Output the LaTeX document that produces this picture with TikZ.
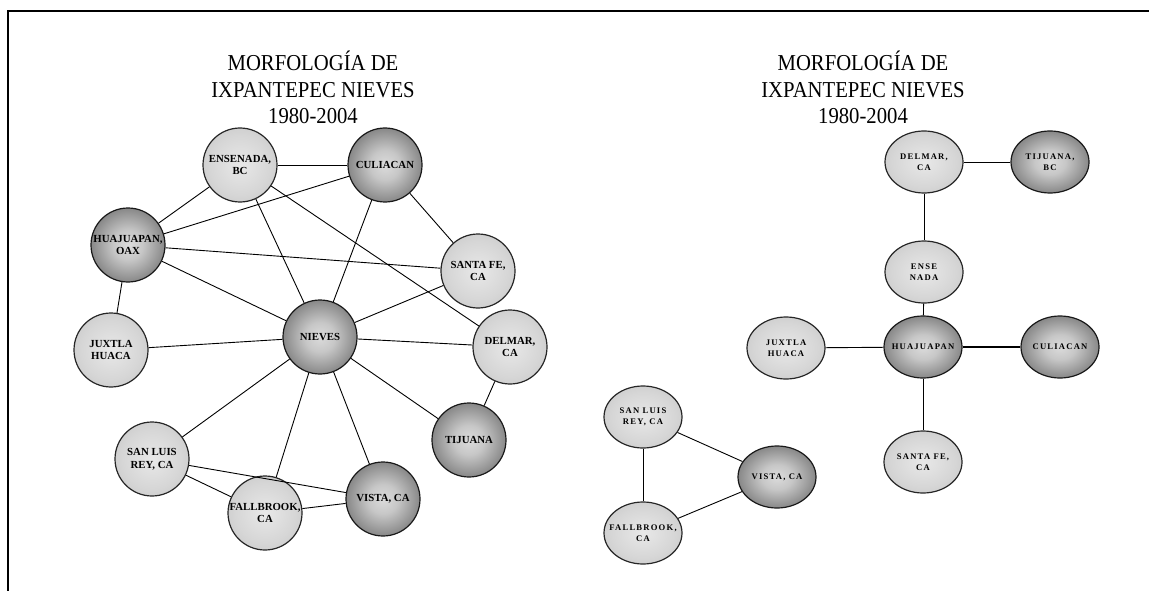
\documentclass[tikz,border=0pt]{standalone}
\usepackage{fontspec}
\setmainfont{Liberation Serif}
\usetikzlibrary{shapes.geometric}
\pgfdeclareradialshading{darkball}{\pgfpoint{0bp}{0bp}}{color(0bp)=(black!14); color(10bp)=(black!22); color(30bp)=(black!55); color(50bp)=(black!88)}
\pgfdeclareradialshading{lightball}{\pgfpoint{0bp}{0bp}}{color(0bp)=(black!9); color(20bp)=(black!16); color(50bp)=(black!30)}
\begin{document}
\begin{tikzpicture}[x=1pt,y=-1pt,
  edge/.style={draw=black, line width=0.9pt},
  thickedge/.style={draw=black, line width=1.6pt},
  lnode/.style={circle, minimum size=74pt, inner sep=0pt, draw=black!85, line width=1.2pt, shading=lightball},
  dnode/.style={circle, minimum size=74pt, inner sep=0pt, draw=black!90, line width=1.2pt, shading=darkball},
  rlnode/.style={ellipse, minimum width=78pt, minimum height=62pt, inner sep=0pt, draw=black!85, line width=1.2pt, shading=lightball},
  rdnode/.style={ellipse, minimum width=78pt, minimum height=62pt, inner sep=0pt, draw=black!90, line width=1.2pt, shading=darkball},
  ltxt/.style={font={\fontsize{10.8}{12.6}\selectfont\bfseries}, align=center, inner sep=0pt},
  rtxt/.style={font={\fontsize{8.6}{11.2}\selectfont\bfseries\addfontfeature{LetterSpace=14}}, align=center, inner sep=0pt},
  ttl/.style={font={\fontsize{20.7}{24}\selectfont}, anchor=base, inner sep=0pt}
]
\path[use as bounding box] (0,0) rectangle (1149,591);
\draw[line width=2pt] (8,591) -- (8,11) -- (1149,11);

% titles
\node[ttl] (t1a) at (313,70.5) {\scalebox{1}[1.1]{MORFOLOGÍA DE}};
\node[ttl] (t1b) at (313,97.5) {\scalebox{1}[1.1]{IXPANTEPEC NIEVES}};
\node[ttl] (t1c) at (313,124) {\scalebox{1}[1.1]{1980-2004}};
\node[ttl] (t2a) at (863,70.5) {\scalebox{1}[1.1]{MORFOLOGÍA DE}};
\node[ttl] (t2b) at (863,97.5) {\scalebox{1}[1.1]{IXPANTEPEC NIEVES}};
\node[ttl] (t2c) at (863,124) {\scalebox{1}[1.1]{1980-2004}};

% left graph nodes
\node[lnode] (ens) at (240,165) {};
\node[dnode] (cul) at (385,165) {};
\node[dnode] (hua) at (128,245) {};
\node[lnode] (sf)  at (478,271) {};
\node[lnode] (jux) at (111,350) {};
\node[dnode] (nie) at (320,337) {};
\node[lnode] (del) at (510,347) {};
\node[dnode] (tij) at (469,440) {};
\node[lnode] (slr) at (152,459) {};
\node[lnode] (fal) at (265,513) {};
\node[dnode] (vis) at (383,499) {};

\foreach \a/\b in {hua/ens, ens/cul, hua/cul, hua/sf, cul/sf, ens/nie, ens/del, cul/nie, sf/nie, hua/nie, hua/jux, jux/nie, nie/del, nie/tij, del/tij, nie/slr, nie/fal, nie/vis, slr/vis, slr/fal, fal/vis}
  \draw[edge] (\a) -- (\b);

\node[ltxt] (enst) at (ens) {ENSENADA,\\BC};
\node[ltxt] (cult) at (cul) {CULIACAN};
\node[ltxt] (huat) at (hua) {HUAJUAPAN,\\OAX};
\node[ltxt] (sft)  at (sf)  {SANTA FE,\\CA};
\node[ltxt] (juxt) at (jux) {JUXTLA\\HUACA};
\node[ltxt] (niet) at (nie) {NIEVES};
\node[ltxt] (delt) at (del) {DELMAR,\\CA};
\node[ltxt] (tijt) at (tij) {TIJUANA};
\node[ltxt] (slrt) at (slr) {SAN LUIS\\REY, CA};
\node[ltxt] (falt) at (fal) {FALLBROOK,\\CA};
\node[ltxt] (vist) at (vis) {VISTA, CA};

% right graph nodes
\node[rlnode] (delr) at (924,162) {};
\node[rdnode] (tijr) at (1050,162) {};
\node[rlnode] (ensr) at (924,272) {};
\node[rlnode] (juxr) at (786,348) {};
\node[rdnode] (huar) at (923,347) {};
\node[rdnode] (culr) at (1060,347) {};
\node[rlnode] (sfr)  at (923,462) {};
\node[rlnode] (slrr) at (643,417) {};
\node[rdnode] (visr) at (777,477) {};
\node[rlnode] (falr) at (643,533) {};

\foreach \a/\b in {delr/tijr, delr/ensr, ensr/huar, juxr/huar, huar/sfr, slrr/visr, slrr/falr, falr/visr}
  \draw[edge] (\a) -- (\b);
\draw[thickedge] (huar) -- (culr);

\node[rtxt] (delrt) at (delr) {DELMAR,\\CA};
\node[rtxt] (tijrt) at (tijr) {TIJUANA,\\BC};
\node[rtxt] (ensrt) at (ensr) {ENSE\\NADA};
\node[rtxt] (juxrt) at (juxr) {JUXTLA\\HUACA};
\node[rtxt] (huart) at (huar) {HUAJUAPAN};
\node[rtxt] (culrt) at (culr) {CULIACAN};
\node[rtxt] (sfrt)  at (sfr)  {SANTA FE,\\CA};
\node[rtxt] (slrrt) at (slrr) {SAN LUIS\\REY, CA};
\node[rtxt] (visrt) at (visr) {VISTA, CA};
\node[rtxt] (falrt) at (falr) {FALLBROOK,\\CA};
\end{tikzpicture}
\end{document}
